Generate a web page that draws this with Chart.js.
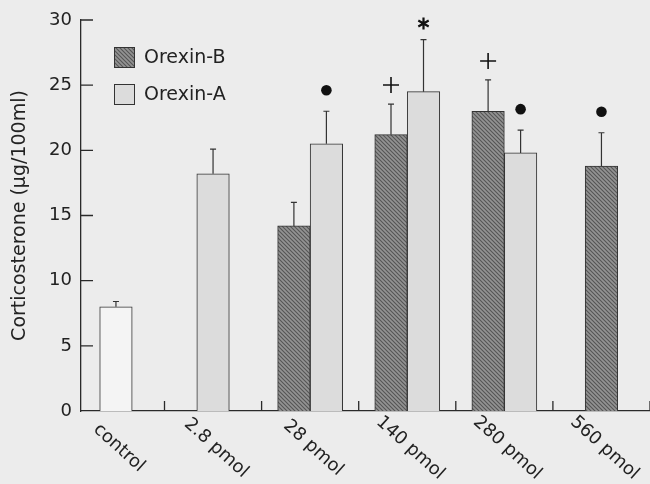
<!DOCTYPE html>
<html>
<head>
<meta charset="utf-8">
<script src="https://cdn.jsdelivr.net/npm/chart.js@4.4.0/dist/chart.umd.min.js"></script>
<style>
  html, body { margin: 0; padding: 0; background: #ececec; }
  canvas { display: block; }
</style>
</head>
<body>
<canvas id="corticoChart" width="650" height="484"></canvas>
<script>
// Datos (media y error estándar hacia arriba)
const categories = ['control', '2.8 pmol', '28 pmol', '140 pmol', '280 pmol', '560 pmol'];
const orexinB = [null, null, 14.2, 21.2, 23.0, 18.8];
const orexinBErr = [null, null, 1.8, 2.35, 2.4, 2.55];
const orexinA = [null, 18.2, 20.5, 24.5, 19.8, null];
const orexinAErr = [null, 1.9, 2.5, 4.0, 1.75, null];
const controlValues = [8.0, null, null, null, null, null];
const controlErr = [0.4, null, null, null, null, null];
const orexinBMarks = ['', '', '', '+', '+', 'dot'];
const orexinAMarks = ['', '', 'dot', '*', 'dot', ''];
const yTicks = [0, 5, 10, 15, 20, 25, 30];

const INK = '#222222';
const FONT = 'DejaVu Sans';

function makeHatch() {
    const c = document.createElement('canvas');
    c.width = 4;
    c.height = 4;
    const g = c.getContext('2d');
    g.fillStyle = '#939393';
    g.fillRect(0, 0, 4, 4);
    g.strokeStyle = '#555555';
    g.lineWidth = 1.1;
    g.beginPath();
    g.moveTo(0, 0); g.lineTo(4, 4);
    g.moveTo(-1, 3); g.lineTo(1, 5);
    g.moveTo(3, -1); g.lineTo(5, 1);
    g.stroke();
    return g.createPattern(c, 'repeat');
}

const hatch = makeHatch();

function toPoints(values) {
    return categories.map((c, i) => ({ x: i, y: values[i] }));
}

function drawMark(ctx, kind, x, yTop) {
    ctx.save();
    ctx.fillStyle = '#111';
    ctx.strokeStyle = '#111';
    if (kind === 'dot') {
        ctx.beginPath();
        ctx.arc(x, yTop - 21, 5.3, 0, Math.PI * 2);
        ctx.fill();
    } else if (kind === '+') {
        const cy = yTop - 19;
        ctx.lineWidth = 1.6;
        ctx.beginPath();
        ctx.moveTo(x - 8, cy); ctx.lineTo(x + 8, cy);
        ctx.moveTo(x, cy - 8); ctx.lineTo(x, cy + 8);
        ctx.stroke();
    } else if (kind === '*') {
        const cy = yTop - 16;
        ctx.lineWidth = 2.2;
        ctx.beginPath();
        for (let k = 0; k < 3; k++) {
            const a = Math.PI / 2 + k * Math.PI / 3;
            ctx.moveTo(x - 6 * Math.cos(a), cy - 6 * Math.sin(a));
            ctx.lineTo(x + 6 * Math.cos(a), cy + 6 * Math.sin(a));
        }
        ctx.stroke();
    }
    ctx.restore();
}

// Barras de error, marcas de significación, ticks interiores, etiquetas y leyenda
const decorPlugin = {
    id: 'decor',
    afterDatasetsDraw(chart) {
        const ctx = chart.ctx;
        const yScale = chart.scales.y;
        chart.data.datasets.forEach((ds, di) => {
            const meta = chart.getDatasetMeta(di);
            meta.data.forEach((bar, i) => {
                const v = ds.data[i].y;
                const e = ds.errors[i];
                if (v == null || e == null) return;
                const top = yScale.getPixelForValue(v + e);
                ctx.save();
                ctx.strokeStyle = '#333';
                ctx.lineWidth = 1.2;
                ctx.beginPath();
                ctx.moveTo(bar.x, bar.y);
                ctx.lineTo(bar.x, top);
                ctx.moveTo(bar.x - 3, top);
                ctx.lineTo(bar.x + 3, top);
                ctx.stroke();
                ctx.restore();
                if (ds.marks[i]) drawMark(ctx, ds.marks[i], bar.x, top);
            });
        });
    },
    afterDraw(chart) {
        const ctx = chart.ctx;
        const xScale = chart.scales.x;
        const yScale = chart.scales.y;
        const area = chart.chartArea;
        ctx.save();
        ctx.strokeStyle = '#2a2a2a';
        ctx.lineWidth = 1.3;
        ctx.beginPath();
        yTicks.forEach(v => {
            if (v === 0) return;
            const py = yScale.getPixelForValue(v);
            ctx.moveTo(area.left, py);
            ctx.lineTo(area.left + 12, py);
        });
        categories.forEach((c, i) => {
            const px = xScale.getPixelForValue(i + 0.5);
            ctx.moveTo(px, area.bottom);
            ctx.lineTo(px, area.bottom - 10);
        });
        ctx.stroke();

        // Etiquetas del eje X giradas hacia abajo
        ctx.fillStyle = INK;
        ctx.font = '18px "' + FONT + '"';
        ctx.textAlign = 'center';
        ctx.textBaseline = 'middle';
        categories.forEach((c, i) => {
            const px = xScale.getPixelForValue(i) + 3;
            ctx.save();
            ctx.translate(px, area.bottom + 37);
            ctx.rotate(42 * Math.PI / 180);
            ctx.fillText(c, 0, 0);
            ctx.restore();
        });

        // Leyenda
        const items = [chart.data.datasets[0], chart.data.datasets[1]];
        ctx.font = '19px "' + FONT + '"';
        ctx.textAlign = 'left';
        items.forEach((ds, k) => {
            const bx = area.left + 33;
            const by = area.top + 27 + k * 37;
            ctx.fillStyle = ds.backgroundColor;
            ctx.fillRect(bx, by, 21, 21);
            ctx.strokeStyle = '#333';
            ctx.lineWidth = 1;
            ctx.strokeRect(bx + 0.5, by + 0.5, 20, 20);
            ctx.fillStyle = INK;
            ctx.fillText(ds.label, bx + 30, by + 11);
        });
        ctx.restore();
    }
};

new Chart(document.getElementById('corticoChart'), {
    type: 'bar',
    data: {
        datasets: [
            {
                label: 'Orexin-B',
                data: toPoints(orexinB),
                errors: orexinBErr,
                marks: orexinBMarks,
                backgroundColor: hatch,
                borderColor: '#333',
                borderWidth: 1
            },
            {
                label: 'Orexin-A',
                data: toPoints(orexinA),
                errors: orexinAErr,
                marks: orexinAMarks,
                backgroundColor: '#dcdcdc',
                borderColor: '#333',
                borderWidth: 1
            },
            {
                label: 'control',
                data: toPoints(controlValues),
                errors: controlErr,
                marks: ['', '', '', '', '', ''],
                backgroundColor: '#f4f4f4',
                borderColor: '#333',
                borderWidth: 1
            }
        ]
    },
    options: {
        responsive: false,
        animation: false,
        skipNull: true,
        barThickness: 32.5,
        layout: { padding: { top: 20, right: 0, bottom: 0, left: 0 } },
        plugins: {
            legend: { display: false },
            tooltip: { enabled: false }
        },
        scales: {
            x: {
                type: 'linear',
                offset: false,
                min: -0.36,
                max: 5.5,
                ticks: { display: false },
                grid: { display: false, drawTicks: false, offset: false },
                border: { display: true, color: '#2a2a2a', width: 1.3 },
                afterFit: function (scale) { scale.height = 73; }
            },
            y: {
                min: 0,
                max: 30,
                afterBuildTicks: function (scale) {
                    scale.ticks = yTicks.map(v => ({ value: v }));
                },
                ticks: {
                    padding: 9,
                    color: INK,
                    font: { family: FONT, size: 18 }
                },
                grid: { display: false, drawTicks: false },
                border: { display: true, color: '#2a2a2a', width: 1.3 },
                title: {
                    display: true,
                    text: 'Corticosterone (μg/100ml)',
                    color: INK,
                    font: { family: FONT, size: 19 },
                    padding: { top: 9, bottom: 0 }
                },
                afterFit: function (scale) { scale.width = 81; }
            }
        }
    },
    plugins: [decorPlugin]
});
</script>
</body>
</html>
